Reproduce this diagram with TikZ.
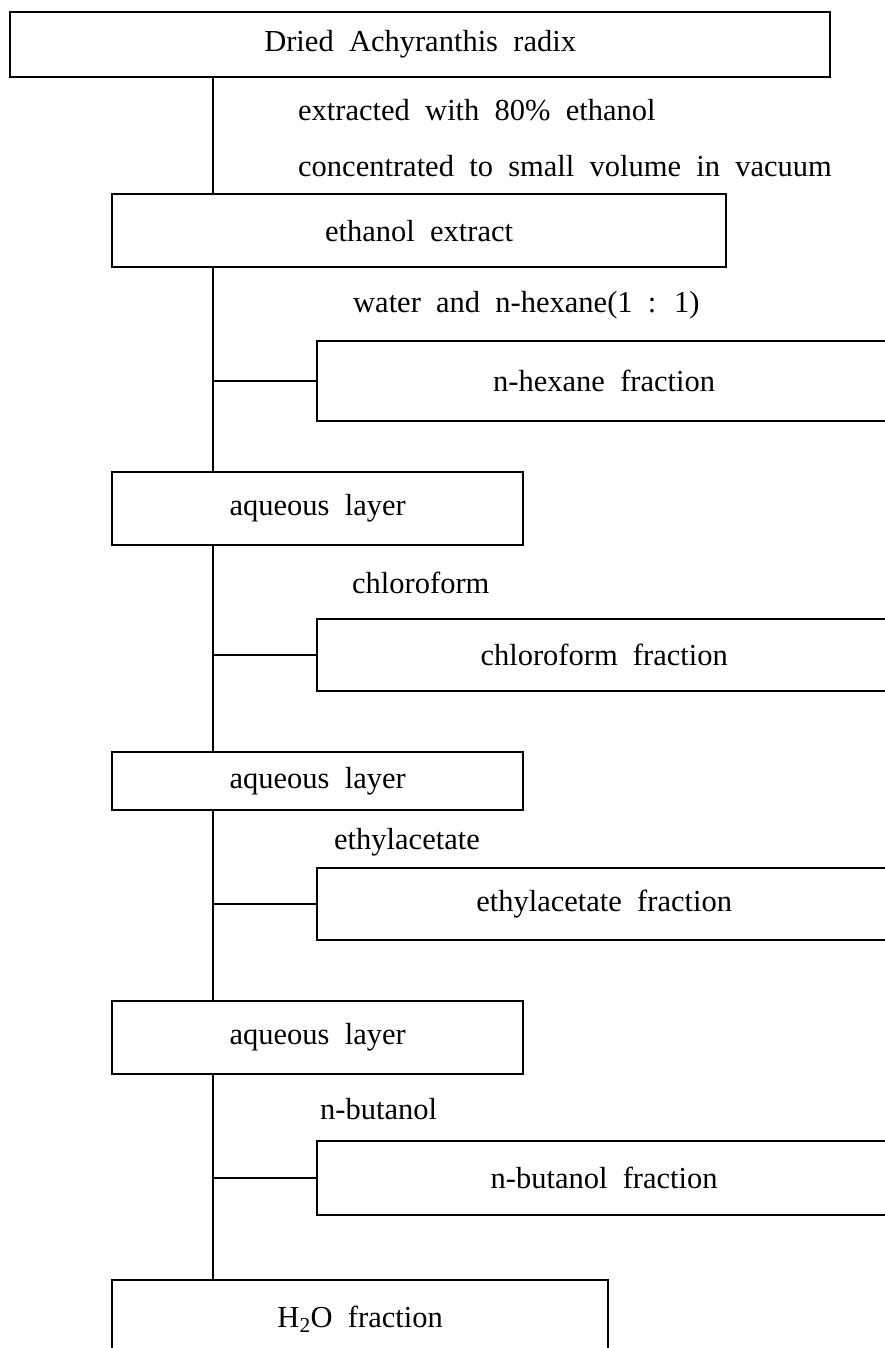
\documentclass[tikz,border=0pt]{standalone}
\usepackage{fontspec}
\setmainfont{Liberation Serif}[WordSpace=2]
\begin{document}
\begin{tikzpicture}[x=1pt,y=-1pt,
  box/.style={draw, line width=2.3pt, inner sep=0pt, anchor=north west, font=\fontsize{30.5}{36}\selectfont},
  lbl/.style={anchor=west, inner sep=0pt, font=\fontsize{30.5}{36}\selectfont},
  link/.style={line width=2.3pt}]
\useasboundingbox (0,0) rectangle (885,1348);
\clip (0,0) rectangle (885,1348);
\fill[white] (0,0) rectangle (885,1348);
\coordinate (t) at (213,0);
% boxes
\node[box, minimum width=820pt, minimum height=65pt] (top) at (9,11) {Dried Achyranthis radix};
\node[box, minimum width=614pt, minimum height=73pt] (ext) at (111,193) {ethanol extract};
\node[box, minimum width=574pt, minimum height=80pt] (hex) at (316,340) {n-hexane fraction};
\node[box, minimum width=411pt, minimum height=73pt] (aq1) at (111,471) {aqueous layer};
\node[box, minimum width=574pt, minimum height=72pt] (chl) at (316,618) {chloroform fraction};
\node[box, minimum width=411pt, minimum height=58pt] (aq2) at (111,751) {aqueous layer};
\node[box, minimum width=574pt, minimum height=72pt] (eth) at (316,867) {ethylacetate fraction};
\node[box, minimum width=411pt, minimum height=73pt] (aq3) at (111,1000) {aqueous layer};
\node[box, minimum width=574pt, minimum height=74pt] (but) at (316,1140) {n-butanol fraction};
\node[box, minimum width=496pt, minimum height=78pt] (h2o) at (111,1279) {H\textsubscript{2}O fraction};
% labels
\node[lbl] (l1) at (298,110) {extracted with 80\% ethanol};
\node[lbl] (l2) at (298,166) {concentrated to small volume in vacuum};
\node[lbl] (l3) at (353,305) {water and n-hexane(1 : 1)};
\node[lbl] (l4) at (352,583) {chloroform};
\node[lbl] (l5) at (334,842) {ethylacetate};
\node[lbl] (l6) at (320,1109) {n-butanol};
% trunk
\draw[link] (top.south -| t) -- (ext.north -| t);
\draw[link] (ext.south -| t) -- (aq1.north -| t);
\draw[link] (aq1.south -| t) -- (aq2.north -| t);
\draw[link] (aq2.south -| t) -- (aq3.north -| t);
\draw[link] (aq3.south -| t) -- (h2o.north -| t);
% branches
\draw[link] (hex.west -| t) -- (hex.west);
\draw[link] (chl.west -| t) -- (chl.west);
\draw[link] (eth.west -| t) -- (eth.west);
\draw[link] (but.west -| t) -- (but.west);
\end{tikzpicture}
\end{document}
